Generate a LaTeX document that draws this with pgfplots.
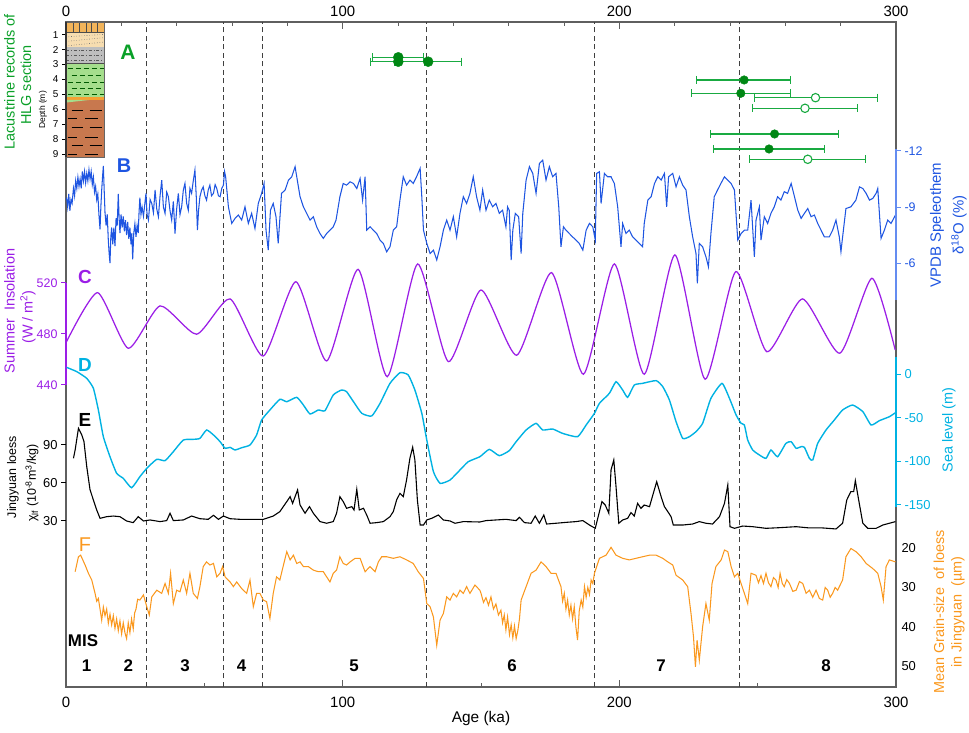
\documentclass[border=0pt]{standalone}
\usepackage{pgfplots}
\pgfplotsset{compat=1.18}
\usepackage{fontspec}
\setmainfont{Liberation Sans}
\definecolor{cB}{RGB}{30,85,225}
\definecolor{cBax}{RGB}{100,140,240}
\definecolor{cC}{RGB}{155,30,230}
\definecolor{cD}{RGB}{0,178,226}
\definecolor{cF}{RGB}{250,152,30}
\definecolor{cG}{RGB}{10,160,40}
\definecolor{cGd}{RGB}{0,135,20}
\definecolor{cGb}{RGB}{25,170,65}
\definecolor{frm}{RGB}{95,95,95}
\definecolor{lyA}{RGB}{242,180,90}
\definecolor{lyB}{RGB}{247,221,176}
\definecolor{lyC}{RGB}{190,190,190}
\definecolor{lyD}{RGB}{165,222,140}
\definecolor{lyE}{RGB}{245,160,51}
\definecolor{lyF}{RGB}{200,120,78}
\newcommand\fs[1]{\fontsize{#1}{#1}\selectfont}
\pgfplotsset{
  geom/.style={width=830bp,height=665bp,scale only axis,at={(66bp,46bp)},anchor=south west,xmin=0,xmax=300},
  panel/.style={geom,clip=false,axis line style={draw=none},xtick=\empty,tick align=outside,
    major tick length=5bp,/pgf/number format/assume math mode=true},
}
\begin{document}
\begin{tikzpicture}[x=1bp,y=1bp]
\useasboundingbox (0,0) rectangle (969,733);
% ---------- frame (bottom ticks) ----------
\begin{axis}[geom,ymin=0,ymax=1,
  axis line style={draw=frm,line width=1.3bp},
  ytick=\empty,xtick={0,100,200,300},minor xtick={50,150,250},
  xtick pos=left,tick align=inside,major tick length=7bp,minor tick length=4bp,
  tick style={frm,line width=1bp},
  xticklabel style={font=\fs{15},yshift=-7bp},
  /pgf/number format/assume math mode=true,
  xlabel={Age (ka)},xlabel style={font=\fs{15.5},yshift=4bp}]
\addplot[black!75,line width=1bp,dash pattern=on 5bp off 3.5bp] coordinates {(29,0) (29,1)};
\addplot[black!75,line width=1bp,dash pattern=on 5bp off 3.5bp] coordinates {(57,0) (57,1)};
\addplot[black!75,line width=1bp,dash pattern=on 5bp off 3.5bp] coordinates {(71,0) (71,1)};
\addplot[black!75,line width=1bp,dash pattern=on 5bp off 3.5bp] coordinates {(130.3,0) (130.3,1)};
\addplot[black!75,line width=1bp,dash pattern=on 5bp off 3.5bp] coordinates {(191,0) (191,1)};
\addplot[black!75,line width=1bp,dash pattern=on 5bp off 3.5bp] coordinates {(243.5,0) (243.5,1)};
\end{axis}
% ---------- frame (top ticks) ----------
\begin{axis}[geom,ymin=0,ymax=1,axis line style={draw=none},
  ytick=\empty,xtick={0,100,200,300},
  minor xtick={20,40,60,80,120,140,160,180,220,240,260,280},
  xtick pos=right,xticklabel pos=right,tick align=inside,major tick length=7bp,minor tick length=4bp,
  tick style={frm,line width=1bp},
  xticklabel style={font=\fs{15},yshift=1.5bp},
  /pgf/number format/assume math mode=true]
\end{axis}
% ---------- A: lithology column ----------
\begin{axis}[width=38bp,height=135bp,scale only axis,at={(66bp,576bp)},anchor=south west,
  xmin=0,xmax=1,ymin=0.15,ymax=9.2,y dir=reverse,clip=false,
  axis line style={draw=none},xtick=\empty,ytick={1,2,3,4,5,6,7,8,9},
  ytick pos=left,yticklabel pos=left,tick align=outside,major tick length=4bp,
  tick style={black,line width=0.8bp},
  yticklabel style={font=\fs{10}},/pgf/number format/assume math mode=true]
\fill[lyA] (axis cs:0,0.15) rectangle (axis cs:1,0.82);
\fill[lyB] (axis cs:0,0.82) rectangle (axis cs:1,1.83);
\fill[lyC] (axis cs:0,1.83) rectangle (axis cs:1,2.90);
\fill[lyD] (axis cs:0,2.90) rectangle (axis cs:1,5.18);
\fill[lyE] (axis cs:0,5.18) rectangle (axis cs:1,5.38);
\fill[lyF] (axis cs:0,5.38) rectangle (axis cs:1,9.2);
\fill[lyD] (axis cs:0,5.38) -- (axis cs:0.6,5.38) -- (axis cs:0,5.55) -- cycle;
\draw[black!70,line width=0.5bp] (axis cs:0.2,0.15) -- (axis cs:0.2,0.82);
\draw[black!70,line width=0.5bp] (axis cs:0.36,0.15) -- (axis cs:0.36,0.82);
\draw[black!70,line width=0.5bp] (axis cs:0.52,0.15) -- (axis cs:0.52,0.82);
\draw[black!70,line width=0.5bp] (axis cs:0.67,0.15) -- (axis cs:0.67,0.82);
\draw[black!70,line width=0.5bp] (axis cs:0.83,0.15) -- (axis cs:0.83,0.82);
\draw[black!70,line width=0.5bp] (axis cs:0,0.82) -- (axis cs:1,0.82);
\draw[black!55,line width=0.6bp,dotted] (axis cs:0,1.15) -- (axis cs:1,0.98);
\draw[black!55,line width=0.6bp,dotted] (axis cs:0,1.45) -- (axis cs:1,1.2);
\draw[black!55,line width=0.6bp,dotted] (axis cs:0,1.75) -- (axis cs:1,1.5);
\draw[black!65,line width=0.6bp,dash dot] (axis cs:0,2.03) -- (axis cs:1,2.03);
\draw[black!65,line width=0.6bp,dash dot] (axis cs:0,2.37) -- (axis cs:1,2.37);
\draw[black!65,line width=0.6bp,dash dot] (axis cs:0,2.70) -- (axis cs:1,2.70);
\draw[black!70,line width=0.6bp] (axis cs:0,2.90) -- (axis cs:1,2.90);
\draw[green!35!black,line width=0.6bp,dash pattern=on 5bp off 3bp] (axis cs:0.05,3.23) -- (axis cs:1,3.23);
\draw[green!35!black,line width=0.6bp,dash pattern=on 5bp off 3bp] (axis cs:0.15,3.70) -- (axis cs:1,3.70);
\draw[green!35!black,line width=0.6bp,dash pattern=on 5bp off 3bp] (axis cs:0.05,4.17) -- (axis cs:1,4.17);
\draw[green!35!black,line width=0.6bp,dash pattern=on 5bp off 3bp] (axis cs:0.15,4.57) -- (axis cs:1,4.57);
\draw[green!35!black,line width=0.6bp,dash pattern=on 5bp off 3bp] (axis cs:0.05,4.98) -- (axis cs:1,4.98);
\draw[black,line width=0.9bp] (axis cs:0.15,6.05) -- (axis cs:0.45,6.05) (axis cs:0.62,6.05) -- (axis cs:0.95,6.05);
\draw[black,line width=0.9bp] (axis cs:0.05,6.59) -- (axis cs:0.3,6.59) (axis cs:0.5,6.59) -- (axis cs:0.85,6.59);
\draw[black,line width=0.9bp] (axis cs:0.15,7.19) -- (axis cs:0.45,7.19) (axis cs:0.62,7.19) -- (axis cs:0.95,7.19);
\draw[black,line width=0.9bp] (axis cs:0.05,7.86) -- (axis cs:0.3,7.86) (axis cs:0.5,7.86) -- (axis cs:0.85,7.86);
\draw[black,line width=0.9bp] (axis cs:0.15,8.46) -- (axis cs:0.45,8.46) (axis cs:0.62,8.46) -- (axis cs:0.95,8.46);
\draw[black,line width=0.9bp] (axis cs:0.05,9.0) -- (axis cs:0.3,9.0) (axis cs:0.5,9.0) -- (axis cs:0.85,9.0);
\draw[black!60,line width=0.6bp] (axis cs:0,0.15) rectangle (axis cs:1,9.2);
\draw[black!80,line width=1.3bp] (axis cs:0,0.15) -- (axis cs:0,9.2);
\end{axis}
% ---------- A: ages with error bars ----------
\begin{axis}[panel,y dir=reverse,ymin=22,ymax=687,ytick=\empty]
\addplot[cGb,line width=1.1bp,mark=|,mark size=4bp] coordinates {(110.8,57.3) (129.1,57.3)};
\addplot[cGb,line width=1.1bp,mark=|,mark size=4bp] coordinates {(110.1,61.7) (129.7,61.7)};
\addplot[cGb,line width=1.1bp,mark=|,mark size=4bp] coordinates {(118.9,61.7) (143.0,61.7)};
\addplot[cGb,line width=1.1bp,mark=|,mark size=4bp] coordinates {(227.9,80) (262.0,80)};
\addplot[cGb,line width=1.1bp,mark=|,mark size=4bp] coordinates {(226.1,93.3) (262.0,93.3)};
\addplot[cGb,line width=1.1bp,mark=|,mark size=4bp] coordinates {(249.0,97.7) (293.2,97.7)};
\addplot[cGb,line width=1.1bp,mark=|,mark size=4bp] coordinates {(248.2,108.3) (286.0,108.3)};
\addplot[cGb,line width=1.1bp,mark=|,mark size=4bp] coordinates {(233.0,134) (279.1,134)};
\addplot[cGb,line width=1.1bp,mark=|,mark size=4bp] coordinates {(234.0,149) (274.1,149)};
\addplot[cGb,line width=1.1bp,mark=|,mark size=4bp] coordinates {(247.0,159.3) (289.0,159.3)};
\addplot[only marks,mark=*,mark size=5bp,cGd] coordinates {(120.1,57.3) (120.1,61.7) (130.9,61.7)};
\addplot[only marks,mark=*,mark size=4.3bp,cGd] coordinates {(245.1,80) (243.9,93.3) (256.1,134) (254.1,149)};
\addplot[only marks,mark=*,mark size=4.2bp,cGb,line width=1.1bp,mark options={fill=white}] coordinates {(270.9,97.7) (267.1,108.3) (268.1,159.3)};
\end{axis}
% ---------- B: speleothem ----------
\begin{axis}[panel,y dir=reverse,ymin=-18.91,ymax=16.71,ytick={-12,-9,-6},
  ytick pos=right,yticklabel pos=right,tick style={cBax,line width=1bp},
  yticklabel style={font=\fs{12.5},text=cB}]
\addplot[cB,line width=1.05bp] coordinates {
(0.2,-9.5)(0.6,-9.0)(1.0,-9.7)(1.4,-8.8)(1.8,-9.4)(2.2,-9.2)(2.7,-10.0)(3.1,-9.6)(3.5,-10.4)(3.9,-10.0)(4.3,-10.6)(4.7,-10.1)(5.1,-10.5)(5.5,-10.0)(5.9,-10.9)(6.3,-10.4)(6.7,-10.9)(7.1,-10.3)(7.5,-10.8)(7.9,-10.4)(8.3,-11.0)(8.7,-10.5)(9.1,-10.9)(9.5,-10.2)(9.9,-10.6)(10.3,-9.8)(10.7,-10.1)(11.1,-9.4)(11.5,-9.7)(11.9,-8.6)(12.3,-7.8)(12.6,-9.0)(12.9,-9.9)(13.2,-10.6)(13.5,-11.2)(13.8,-9.9)(14.1,-8.7)(14.5,-8.0)(14.9,-8.6)(15.3,-7.2)(15.6,-6.5)(15.9,-6.0)(16.2,-7.4)(16.5,-7.9)(16.9,-7.0)(17.3,-7.9)(17.7,-6.9)(18.1,-8.4)(18.5,-8.0)(18.9,-9.7)(19.2,-8.4)(19.5,-7.6)(19.9,-8.6)(20.3,-7.9)(20.7,-8.5)(21.1,-7.7)(21.5,-8.3)(21.9,-7.5)(22.3,-8.2)(22.7,-7.3)(23.1,-7.9)(23.5,-7.0)(23.8,-7.6)(24.1,-6.2)(24.5,-7.6)(24.9,-8.1)(25.3,-7.4)(25.7,-8.0)(26.1,-7.6)(26.4,-8.7)(26.7,-9.5)(27.1,-8.6)(27.5,-9.0)(28.0,-8.5)
(28.9,-9.73)(29.3,-8.6)(29.8,-8.30)(30.4,-9.4)(31.0,-9.19)(31.6,-8.7)(32.2,-9.91)(32.8,-8.9)(33.4,-8.48)(34.0,-9.6)(34.6,-10.44)(35.2,-9.0)(35.8,-8.66)(36.4,-9.8)(37.0,-9.55)(37.6,-8.8)(38.2,-8.30)(38.8,-9.3)(39.4,-7.58)(40.0,-8.9)(40.6,-9.73)(41.2,-8.6)(41.8,-9.01)(42.4,-9.9)(43.0,-10.26)(43.6,-9.2)(44.2,-8.83)(44.8,-10.0)(45.4,-9.73)(46.0,-10.4)(46.6,-10.98)(47.1,-9.5)(47.5,-7.76)(47.9,-8.8)(48.4,-9.55)(49.0,-9.9)(49.6,-10.08)(50.2,-9.6)(50.8,-9.37)(51.4,-9.9)(52.0,-10.17)(52.6,-9.6)(53.3,-9.73)(53.9,-10.2)(54.5,-9.99)(55.1,-9.6)(55.7,-9.55)(56.3,-10.0)(56.9,-10.17)(57.3,-10.9)(57.7,-10.62)
(58.7,-9.01)(59.9,-8.12)(61.1,-8.39)(62.3,-8.57)(63.5,-8.30)(64.7,-9.01)(65.9,-8.12)(67.1,-8.66)(68.3,-7.85)(69.5,-9.19)(70.7,-9.73)(71.6,-10.26)(72.3,-7.76)(73.1,-6.69)(73.9,-8.83)(74.9,-9.19)(75.9,-8.48)(76.7,-7.05)(77.9,-9.73)(79.2,-9.91)(80.4,-10.44)(81.6,-10.62)(82.8,-11.16)(83.6,-10.44)(84.6,-9.55)(85.8,-9.01)(87.0,-8.66)(88.2,-8.30)(89.4,-8.48)(90.6,-7.94)(91.8,-7.58)(93.0,-7.32)(94.2,-7.58)(95.4,-7.76)(96.6,-7.94)(97.6,-8.30)(99.0,-9.55)(100.2,-10.26)(101.4,-10.17)(102.7,-10.35)(103.9,-10.26)(105.1,-9.99)(106.3,-10.53)(107.2,-9.37)(108.1,-10.62)(108.7,-7.76)(109.9,-7.94)(111.1,-7.76)(112.3,-7.58)(113.5,-7.23)(114.7,-7.05)(115.9,-6.60)(117.1,-6.87)(118.3,-7.76)(119.5,-7.94)(120.7,-9.37)(121.9,-10.62)(123.1,-10.17)(124.3,-10.44)(125.5,-10.26)(126.7,-10.62)(128.0,-11.07)(128.6,-9.55)(129.2,-7.76)(130.4,-7.05)(131.6,-6.51)(132.8,-6.69)(134.0,-6.16)(135.2,-6.87)(136.4,-7.76)(137.6,-8.30)(138.8,-7.76)(140.0,-8.48)(141.2,-7.40)(142.4,-8.66)(143.6,-9.55)(144.8,-9.19)(146.0,-9.73)(147.2,-10.62)(148.4,-9.55)(149.6,-8.83)
(150.6,-9.91)(151.8,-8.83)(153.0,-9.37)(154.2,-9.01)(155.4,-9.19)(156.6,-8.66)(157.8,-8.83)(159.0,-7.94)(159.6,-9.01)(160.2,-8.83)(160.9,-6.16)(161.5,-7.76)(162.4,-8.66)(163.6,-8.48)(164.5,-6.51)(165.1,-8.66)(166.3,-10.44)(167.5,-11.16)(168.7,-10.80)(169.9,-9.73)(171.1,-11.33)(172.3,-11.51)(173.5,-10.44)(174.7,-11.16)(175.9,-10.62)(177.1,-10.80)(178.1,-9.01)(178.9,-6.87)(179.8,-7.94)(180.7,-7.76)(181.9,-7.58)(183.1,-7.40)(184.3,-7.23)(185.5,-7.05)(186.8,-6.69)(188.0,-7.76)(189.2,-8.12)(190.4,-7.94)(191.3,-7.23)(191.8,-10.80)(192.8,-10.89)(193.4,-9.19)(194.6,-10.80)(195.8,-10.62)(197.0,-10.62)(198.2,-10.26)(199.4,-9.01)(200.6,-6.87)(201.2,-8.12)(202.4,-7.58)(203.6,-7.76)(204.8,-7.40)(206.0,-7.23)(207.2,-7.05)(208.4,-6.87)(209.0,-8.12)(210.3,-9.37)(211.5,-9.55)(212.7,-10.26)(213.9,-10.62)(215.1,-10.44)(216.3,-10.80)(217.1,-9.01)(217.8,-10.62)(219.3,-10.80)(220.5,-10.08)(221.7,-10.62)(222.9,-10.17)(224.1,-9.91)(225.3,-8.48)(226.5,-7.40)(227.7,-6.51)(228.2,-4.91)(228.9,-7.05)(230.1,-6.87)(231.3,-6.33)(232.2,-5.80)(233.1,-7.58)(234.3,-9.55)(235.5,-9.91)(236.7,-10.26)(238.0,-10.62)(239.2,-10.44)(240.4,-10.26)(241.6,-9.91)(242.8,-7.23)(244.0,-7.58)(245.2,-7.76)(246.4,-7.76)(247.6,-9.37)(248.8,-6.33)(249.4,-8.30)(250.6,-9.01)(251.2,-7.23)(252.4,-8.48)(253.6,-8.12)(254.8,-8.66)(256.0,-9.01)(257.2,-9.55)(258.4,-9.37)(259.6,-9.82)(260.8,-9.73)(262.1,-10.26)(263.3,-9.55)(264.5,-8.83)(265.7,-8.39)(266.9,-8.66)(268.1,-8.92)(269.3,-8.48)(270.5,-8.57)(271.7,-8.12)(272.9,-7.76)(274.1,-7.40)(275.9,-7.40)(277.1,-7.76)(278.3,-8.30)(279.5,-7.40)(280.1,-6.60)(280.7,-7.40)(281.9,-8.92)(283.7,-9.01)(285.5,-9.37)(286.8,-10.08)(288.0,-9.99)(289.2,-9.73)(290.4,-9.37)(291.6,-9.46)(292.8,-9.73)(293.4,-9.99)(294.6,-7.32)(295.8,-7.76)(297.0,-8.30)(298.2,-8.12)(299.8,-8.57)};
\draw[cBax,line width=1.3bp] (axis cs:300,-12.1) -- (axis cs:300,-4.0);
\end{axis}
% ---------- C: insolation (turning points) ----------
\begin{axis}[panel,ymin=203.1,ymax=724.7,ytick={440,480,520},
  ytick pos=left,yticklabel pos=left,tick style={cC,line width=1bp},
  yticklabel style={font=\fs{12.5},text=cC}]
\addplot[cC,line width=1.25bp,smooth,tension=0.37] coordinates {
(0.2,474.0)(11.4,512.4)(22.5,468.8)(34,502)(47.2,479.8)(59.3,507.5)(71.3,462.7)(83.1,521)(94.2,458.8)(105.6,530.7)(116.1,446.5)(127.1,534.9)(138.2,458.3)(150,514.5)(162.9,463.3)(175.5,528.1)(187,448.4)(198.2,534.9)(209,448.4)(220.1,542)(231,444.5)(242.1,528.9)(253.3,466.1)(266.2,507.5)(279.7,464.9)(291.3,523.7)(299.7,467.5)};
\draw[cC,line width=1.3bp] (axis cs:0,440) -- (axis cs:0,520);
\end{axis}
% ---------- D: sea level ----------
\begin{axis}[panel,ymin=-358.4,ymax=403.1,ytick={-150,-100,-50,0},
  ytick pos=right,yticklabel pos=right,tick style={cD,line width=1bp},
  yticklabel style={font=\fs{13},text=cD}]
\addplot[cD,line width=1.4bp,smooth,tension=0.3] coordinates {
(0.2,7.6)(3.9,2.7)(7.5,-5.0)(9.9,-16.4)(11.7,-41.2)(13.5,-71.8)(15.9,-94.7)(18.3,-113.7)(20.7,-119.5)(23.7,-130.2)(26.7,-117.6)(29.2,-108.0)(32.8,-97.7)(35.8,-99.2)(38.8,-88.9)(42.4,-75.6)(46.0,-74.8)(48.4,-73.7)(50.8,-64.1)(53.3,-69.8)(55.7,-77.5)(57.5,-85.1)(59.3,-84.0)(61.1,-87.0)(63.5,-84.4)(66.5,-81.3)(68.9,-69.8)(70.7,-52.7)(73.7,-41.2)(77.3,-29.0)(79.8,-31.7)(83.4,-26.7)(85.8,-35.5)(88.2,-45.8)(91.2,-41.2)(93.6,-42.0)(96.6,-24.0)(99.6,-18.3)(101.4,-20.2)(103.9,-31.7)(106.9,-45.0)(110.5,-48.1)(113.5,-33.6)(117.1,-10.7)(120.7,1.5)(123.7,-1.1)(126.1,-18.3)(128.6,-45.0)(130.4,-75.6)(132.8,-111.8)(135.2,-125.2)(138.8,-121.4)(142.4,-109.9)(145.4,-100.4)(149.6,-94.7)
(153.0,-86.3)(156.6,-93.5)(160.2,-87.8)(162.7,-77.5)(166.3,-64.1)(169.9,-56.5)(172.3,-64.1)(175.9,-63.0)(179.5,-68.0)(184.9,-71.8)(188.0,-58.4)(191.0,-45.0)(192.8,-33.6)(196.4,-22.1)(198.8,-8.8)(201.2,-18.3)(203.0,-26.7)(205.4,-12.6)(208.4,-10.7)(213.3,-7.6)(215.7,-14.5)(218.1,-29.8)(220.5,-54.6)(222.9,-73.7)(225.3,-71.8)(227.7,-66.0)(230.1,-56.5)(233.1,-27.9)(237.1,-10.7)(239.8,-27.9)(242.2,-46.9)(244.0,-56.5)(245.2,-58.4)(246.4,-75.6)(248.2,-87.0)(250.6,-92.7)(253.0,-96.6)(254.8,-87.0)(257.2,-94.7)(260.2,-79.4)(262.1,-77.5)(263.9,-85.1)(265.7,-83.2)(266.9,-84.0)(268.7,-96.6)(269.9,-98.5)(271.7,-79.4)(274.7,-64.1)(277.7,-52.7)(280.7,-41.2)(284.3,-35.5)(288.0,-43.1)(291.0,-58.4)(294.0,-53.4)(297.6,-48.9)(299.8,-44.3)};
\draw[cD,line width=1.3bp] (axis cs:300,19.5) -- (axis cs:300,-152.3);
\end{axis}
% ---------- E: susceptibility ----------
\begin{axis}[panel,ymin=-101.05,ymax=423.9,ytick={30,60,90},
  ytick pos=left,yticklabel pos=left,tick style={black,line width=1bp},
  yticklabel style={font=\fs{13}}]
\addplot[black,line width=1.1bp] coordinates {
(2.7,79.5)(3.3,86.0)(4.5,103.1)(5.7,97.9)(6.5,92.6)(7.5,72.9)(8.7,54.5)(9.9,46.6)(11.1,38.7)(12.3,32.1)(14.7,33.4)(17.1,33.9)(19.5,33.4)(21.9,30.0)(24.3,28.7)(26.1,33.4)(28.0,30.0)(30.4,30.8)(34.0,29.5)(36.4,30.3)(37.6,36.1)(38.8,30.3)(42.4,30.8)(45.4,33.9)(48.4,31.8)(51.4,31.3)(53.3,34.5)(55.1,31.3)(56.9,33.9)(59.3,31.8)(62.9,31.3)(67.7,31.3)(71.3,31.3)(74.9,33.9)(77.3,37.4)(79.8,45.3)(81.0,49.2)(81.9,43.9)(83.7,54.5)(84.6,42.6)(86.4,36.1)(88.0,41.3)(89.4,36.1)(91.8,29.5)(94.2,28.2)(96.6,29.5)(97.8,36.1)(99.0,49.2)(100.2,45.3)(101.4,40.0)(103.3,41.3)(104.1,38.7)(105.1,55.0)(106.0,38.7)(107.5,40.0)(108.7,34.7)(109.9,28.2)(112.3,28.7)(114.7,29.5)(117.1,33.4)(118.3,37.4)(119.5,46.6)(120.7,51.8)(121.9,49.2)(123.1,62.4)(124.3,79.5)(125.3,88.2)(126.1,78.2)(127.0,46.6)(128.0,26.8)(129.2,26.8)(130.4,30.8)(132.2,32.1)(134.6,34.7)(136.4,30.8)(138.8,30.0)(140.6,28.2)(143.6,29.5)(149.6,29.2)
(151.8,30.3)(155.4,30.8)(159.0,31.3)(162.7,30.3)(163.9,32.9)(165.7,28.7)(168.1,28.2)(169.6,33.9)(171.1,28.2)(172.7,34.7)(173.7,27.6)(177.1,28.2)(180.7,28.9)(184.3,29.5)(186.8,30.3)(189.2,26.8)(191.3,24.2)(192.5,34.7)(193.7,45.3)(194.9,42.6)(196.2,36.1)(197.0,70.3)(198.0,78.2)(198.8,57.1)(199.8,28.2)(201.2,30.8)(203.0,32.1)(204.2,36.6)(205.4,33.9)(206.6,43.9)(207.8,40.0)(209.0,42.6)(210.9,41.3)(212.1,50.5)(213.5,61.0)(215.1,49.2)(216.3,41.3)(217.5,37.4)(218.7,33.4)(219.5,26.8)(222.9,26.8)(226.5,27.6)(228.9,29.5)(231.3,28.2)(233.7,27.6)(236.2,33.4)(238.0,43.9)(239.2,58.4)(240.0,25.5)(241.6,24.2)(244.6,26.0)(248.2,25.5)(253.0,24.2)(257.8,24.7)(263.9,25.5)(268.7,24.5)(273.5,24.5)(278.3,23.7)(280.7,28.2)(282.2,46.6)(283.7,53.2)(284.7,53.2)(285.3,61.8)(286.5,46.6)(288.0,28.2)(289.8,24.2)(292.8,24.2)(295.2,26.8)(297.6,28.2)(299.8,29.5)};
\end{axis}
% ---------- F: grain size ----------
\begin{axis}[panel,y dir=reverse,ymin=-113.7,ymax=55.3,ytick={20,30,40,50},
  ytick pos=right,yticklabel pos=right,tick style={draw=none},major tick length=2bp,
  yticklabel style={font=\fs{13}}]
\addplot[cF,line width=1.05bp] coordinates {
(3.3,26.0)(4.5,22.2)(5.3,21.8)(6.9,24.3)(8.1,26.4)(9.3,28.1)(10.5,31.5)(11.1,33.5)(11.7,32.8)(12.3,35.5)(12.9,38.3)(13.5,35.0)(14.1,37.2)(14.7,35.5)(15.3,39.1)(15.9,36.8)(16.5,39.5)(17.1,37.2)(17.7,40.4)(18.3,38.0)(18.9,41.0)(19.5,38.5)(20.1,41.8)(20.7,39.0)(21.3,41.5)(21.9,43.0)(22.5,39.0)(23.1,41.5)(23.7,38.0)(24.3,40.5)(24.8,36.5)(25.3,35.5)(25.9,33.0)(26.7,33.2)(28.0,31.9)(29.2,34.9)(30.1,37.0)(31.0,32.4)(32.8,30.7)(34.6,31.5)(35.8,29.0)(37.0,31.5)(37.8,26.4)(38.8,34.1)(40.0,30.7)(41.2,31.1)(42.4,28.1)(43.6,31.5)(44.8,26.4)(46.0,31.5)(47.5,32.8)(48.4,29.8)(49.6,24.7)(50.8,23.5)(52.0,24.3)(53.3,23.9)(54.5,27.3)(55.7,26.4)(56.6,24.7)(57.5,27.3)(59.3,28.6)(60.5,29.8)(61.7,28.6)(63.5,30.3)(65.3,31.5)(66.5,28.1)(67.7,34.9)(68.9,31.5)(70.1,31.5)(71.3,33.2)(72.5,33.6)(73.7,37.9)(74.9,31.5)(76.1,27.3)(77.3,28.1)(78.6,24.3)(79.8,20.9)(81.0,23.0)(82.2,21.8)(83.4,23.9)(84.6,23.5)(85.8,24.7)(87.6,24.7)(89.4,25.6)(91.2,26.0)(93.0,26.0)(94.2,27.3)(95.4,28.6)(96.6,26.4)(97.8,25.6)(99.0,22.2)(100.2,23.9)(101.4,24.3)(102.7,23.5)(104.5,22.6)(106.3,22.6)(108.1,26.0)(109.9,24.7)(111.7,26.0)(112.9,23.5)(114.1,22.2)(115.9,22.2)(118.3,22.6)(120.7,22.2)(123.1,23.0)(125.5,23.9)(127.3,26.0)(129.2,27.7)(130.4,34.1)(131.6,34.9)(132.8,37.5)(134.0,44.7)(135.2,38.3)(136.4,36.6)(137.6,32.4)(138.8,33.2)(140.0,31.5)(141.2,32.4)(142.4,30.7)(143.6,31.5)(144.8,29.8)(146.0,31.5)(147.8,29.4)(149.6,30.7)
(150.0,31.5)(150.9,33.8)(151.8,32.6)(152.7,34.5)(153.6,32.4)(154.5,35.5)(155.4,34.2)(156.3,37.0)(157.2,35.8)(157.8,39.0)(158.4,37.0)(159.0,40.8)(159.6,37.5)(160.3,42.0)(160.9,39.5)(161.5,42.8)(162.1,39.8)(162.7,43.0)(163.3,41.0)(163.9,38.0)(164.5,33.2)(166.3,29.8)(168.1,26.4)(169.9,25.6)(171.7,23.5)(173.5,24.7)(175.3,26.4)(177.1,26.4)(178.9,29.8)(179.5,33.5)(180.1,31.5)(180.7,35.5)(181.3,33.2)(181.9,37.0)(182.5,34.5)(183.1,38.0)(183.7,34.9)(184.3,40.0)(184.9,43.4)(185.5,36.0)(186.2,33.2)(186.8,35.0)(187.4,29.8)(188.0,32.5)(188.6,30.0)(189.2,31.8)(189.8,28.1)(190.4,29.0)(191.0,26.4)(192.8,22.6)(195.2,21.8)(197.0,19.8)(198.8,21.8)(201.2,22.6)(203.6,23.0)(206.0,22.6)(208.4,22.2)(210.9,21.8)(213.3,21.8)(215.7,22.6)(217.5,23.5)(219.3,24.3)(220.5,26.9)(222.9,28.1)(224.7,29.8)(225.9,36.6)(226.8,42.5)(227.5,50.2)(228.1,43.4)(228.9,48.5)(230.1,40.0)(231.3,34.1)(232.5,38.3)(233.5,29.0)(234.9,24.7)(236.8,23.0)(238.0,20.5)(239.2,20.9)(240.4,24.7)(241.6,27.3)(242.8,26.4)(244.0,29.0)(245.2,31.5)(246.4,34.1)(247.6,26.4)(249.4,26.9)(250.3,28.8)(251.2,27.0)(252.1,29.0)(253.0,26.4)(253.9,28.8)(254.8,29.8)(255.7,27.5)(256.6,28.1)(257.4,30.0)(258.1,26.4)(258.9,29.0)(259.6,29.8)(260.5,28.0)(261.5,29.0)(262.7,31.0)(263.9,30.7)(265.1,28.5)(266.3,29.0)(267.5,31.5)(268.7,30.7)(269.9,32.5)(271.1,30.7)(272.3,32.8)(273.5,33.2)(274.4,30.0)(275.3,30.7)(276.2,32.5)(277.1,31.5)(278.0,30.0)(278.9,30.7)(280.7,28.1)(281.9,22.2)(283.7,20.1)(285.5,20.9)(287.4,22.2)(289.2,23.9)(291.6,25.2)(293.4,26.4)(294.6,29.8)(295.4,33.2)(296.4,24.7)(297.6,23.0)(299.8,23.5)};
\end{axis}
% ---------- text ----------
\node[text=cG,font=\fs{21}\bfseries] at (128,681) {A};
\node[text=cB,font=\fs{20}\bfseries] at (124,567) {B};
\node[text=cC,font=\fs{19}\bfseries] at (85,456) {C};
\node[text=cD,font=\fs{19}\bfseries] at (85,368) {D};
\node[text=black,font=\fs{19}\bfseries] at (85,313) {E};
\node[text=cF,font=\fs{20}] at (85,188) {F};
\node[font=\fs{17}\bfseries] at (83,92) {MIS};
\node[font=\fs{17}\bfseries] at (86.7,67) {1};
\node[font=\fs{17}\bfseries] at (128.3,67) {2};
\node[font=\fs{17}\bfseries] at (185,67) {3};
\node[font=\fs{17}\bfseries] at (241.7,67) {4};
\node[font=\fs{17}\bfseries] at (354,67) {5};
\node[font=\fs{17}\bfseries] at (512,67) {6};
\node[font=\fs{17}\bfseries] at (661,67) {7};
\node[font=\fs{17}\bfseries] at (826,67) {8};
\node[rotate=90,text=cG,font=\fs{14.5}] at (9.5,651) {Lacustrine records of};
\node[rotate=90,text=cG,font=\fs{14.5}] at (26,648) {HLG section};
\node[rotate=90,font=\fs{8.5}] at (43,623) {Depth (m)};
\node[rotate=90,text=cC,font=\fs{14.5}] at (9.5,422) {Summer\ \ Insolation};
\node[rotate=90,text=cC,font=\fs{14.5}] at (28,416) {(W / m\textsuperscript{2})};
\node[rotate=90,font=\fs{12.5}] at (13,256) {Jingyuan loess};
\node[rotate=90,font=\fs{12.5}] at (32,250) {χ\textsubscript{lf} (10\textsuperscript{-8}m\textsuperscript{3}/kg)};
\node[rotate=90,text=cB,font=\fs{15}] at (937,508) {VPDB Speleothem};
\node[rotate=90,text=cB,font=\fs{15}] at (959,508) {δ\textsuperscript{18}O (\%)};
\node[rotate=90,text=cD,font=\fs{14.5}] at (949,303) {Sea level (m)};
\node[rotate=90,text=cF,font=\fs{14.5}] at (939,121) {Mean Grain-size\ \ of loess};
\node[rotate=90,text=cF,font=\fs{14.5}] at (958,121) {in Jingyuan\ \ (µm)};
\end{tikzpicture}
\end{document}
